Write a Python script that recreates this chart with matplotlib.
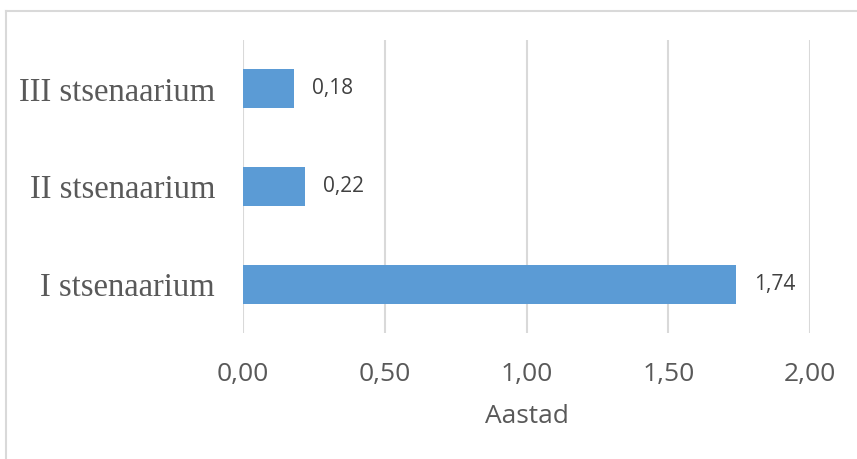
import matplotlib.pyplot as plt
from matplotlib.lines import Line2D

# scenario results (years)
scenarios = ["I stsenaarium", "II stsenaarium", "III stsenaarium"]
years = [1.74, 0.22, 0.18]
xticks = [0.0, 0.5, 1.0, 1.5, 2.0]
xlabel = "Aastad"

bar_color = "#5B9BD5"
grid_color = "#d9d9d9"
text_color = "#595959"

fig = plt.figure(figsize=(8.57, 4.59), dpi=100)
ax = fig.add_axes([243/857, 1 - 333/459, (810 - 243)/857, (333 - 40)/459])

pos = list(range(len(scenarios)))
ax.barh(pos, years, height=0.4, color=bar_color, zorder=3)

for p, v in zip(pos, years):
    ax.annotate(f"{v:.2f}".replace(".", ","), (v, p), xytext=(13, 0),
                textcoords="offset points", ha="left", va="center",
                fontsize=15, color="#404040", family="Open Sans")

ax.set_xlim(0, 2.0)
ax.set_ylim(-0.5, 2.5)
ax.set_xticks(xticks)
ax.set_xticklabels([f"{t:.2f}".replace(".", ",") for t in xticks],
                   fontsize=19, color=text_color, family="Open Sans")
ax.set_yticks(pos)
ax.set_yticklabels(scenarios, fontsize=23.5, color=text_color,
                   family="Liberation Serif")
ax.tick_params(axis="both", length=0)
ax.tick_params(axis="x", pad=21)
ax.tick_params(axis="y", pad=20)
ax.set_xlabel(xlabel, fontsize=19, color=text_color, family="Open Sans",
              labelpad=12)

ax.grid(axis="x", color=grid_color, linewidth=1.5, zorder=0)
ax.set_axisbelow(True)
for s in ax.spines.values():
    s.set_visible(False)

# chart frame (top and left edges)
fig.add_artist(Line2D([6/857, 1], [1 - 11/459, 1 - 11/459],
                      color=grid_color, linewidth=1.5, transform=fig.transFigure))
fig.add_artist(Line2D([6/857, 6/857], [0, 1 - 11/459],
                      color=grid_color, linewidth=1.5, transform=fig.transFigure))

fig.savefig("out.png", dpi=100)
